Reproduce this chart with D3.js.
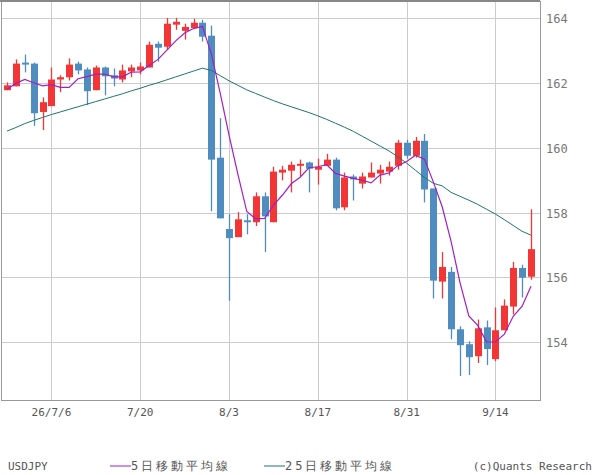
<!DOCTYPE html>
<html><head><meta charset="utf-8">
<script src="https://cdn.jsdelivr.net/npm/d3@7"></script>
<style>body{margin:0;background:#fff}</style></head>
<body><svg id="c" width="600" height="475"></svg>
<script>
const opens=[161.77,161.89,162.62,162.59,161.10,161.28,162.10,162.17,162.59,162.41,161.77,162.47,162.23,162.10,162.35,162.38,162.47,163.20,163.11,163.79,163.60,163.69,163.85,163.45,159.69,157.49,157.24,157.76,157.70,158.50,157.70,159.23,159.29,159.44,159.54,159.32,159.44,159.63,158.16,159.11,158.89,159.08,159.20,159.26,159.44,160.15,159.75,160.21,158.74,155.87,156.17,154.40,153.94,153.57,154.46,153.48,154.37,155.10,156.29,156.02];
const closes=[161.92,162.59,162.56,161.06,161.40,162.10,162.17,162.56,162.38,161.74,162.47,162.20,162.13,162.38,162.47,162.50,163.17,163.08,163.82,163.88,163.72,163.85,163.42,159.63,157.82,157.21,157.79,157.70,158.50,157.88,159.26,159.32,159.47,159.50,159.35,159.41,159.63,158.13,159.08,159.02,159.11,159.23,159.32,159.41,160.15,159.75,160.21,158.71,155.90,156.32,154.40,153.91,153.54,154.43,153.79,154.37,155.13,156.29,155.99,156.87];
const highs=[162.01,162.72,162.87,162.62,161.55,162.47,162.23,162.75,162.65,162.47,162.53,162.50,162.44,162.56,162.56,162.62,163.27,163.27,164.00,164.00,163.82,163.97,163.94,163.76,160.91,157.95,158.01,157.95,158.62,158.62,159.41,159.44,159.57,159.63,159.57,159.66,159.81,159.69,159.23,159.17,159.23,159.54,159.47,159.57,160.24,160.24,160.33,160.42,158.74,156.78,156.32,154.49,154.03,154.70,154.67,155.07,155.32,156.48,156.39,158.10];
const lows=[161.77,161.89,162.32,160.67,160.54,161.28,161.71,162.07,162.26,161.31,161.77,161.61,161.89,162.01,162.17,162.26,162.47,162.65,163.02,163.63,163.33,163.69,163.27,158.04,157.82,155.28,157.24,157.33,157.58,156.78,157.70,158.99,158.62,159.11,158.62,158.86,159.44,158.07,158.07,158.37,158.74,159.08,158.89,159.14,159.32,159.66,159.69,158.31,155.35,155.35,154.09,152.96,152.99,153.36,153.30,153.42,154.37,154.86,155.38,155.93];
const ma5Lead=[161.80,161.98,162.10,162.00];
const ma25=[160.51,160.62,160.74,160.84,160.93,161.02,161.10,161.18,161.26,161.34,161.42,161.50,161.58,161.66,161.75,161.83,161.92,162.00,162.09,162.18,162.27,162.36,162.45,162.38,162.22,162.06,161.92,161.78,161.67,161.56,161.45,161.35,161.26,161.17,161.08,160.98,160.87,160.75,160.63,160.50,160.35,160.20,160.05,159.90,159.72,159.52,159.30,159.08,158.90,158.82,158.62,158.50,158.38,158.25,158.10,157.95,157.78,157.60,157.42,157.30];
const tickIdx=[5,15,25,35,45,55];
const tickLabels=["26/7/6","7/20","8/3","8/17","8/31","9/14"];
const yTicks=[154,156,158,160,162,164];

const svg=d3.select("#c");
const L=1,R=540,T=1,B=400;
const x=d3.scaleLinear().domain([0,59]).range([7,531]);
const y=d3.scaleLinear().domain([152.22,164.52]).range([B,T]);
const ma5=closes.map((c,i)=>i<4?ma5Lead[i]:d3.mean(closes.slice(i-4,i+1)));

const g=svg.append("g");
g.selectAll(".hg").data(yTicks).join("line").attr("x1",L).attr("x2",R)
 .attr("y1",d=>Math.round(y(d))+0.5).attr("y2",d=>Math.round(y(d))+0.5).attr("stroke","#ccc");
g.selectAll(".vg").data(tickIdx).join("line").attr("y1",T).attr("y2",B)
 .attr("x1",d=>Math.round(x(d))+0.5).attr("x2",d=>Math.round(x(d))+0.5).attr("stroke","#ccc");

const up="#f23535",dn="#4f8cc0";
const idx=d3.range(60);
g.selectAll(".w").data(idx).join("line")
 .attr("x1",i=>Math.round(x(i))+0.5).attr("x2",i=>Math.round(x(i))+0.5)
 .attr("y1",i=>y(highs[i])).attr("y2",i=>y(lows[i]))
 .attr("stroke",i=>closes[i]>=opens[i]?up:dn).attr("stroke-width",1.3);
g.selectAll(".b").data(idx).join("rect")
 .attr("x",i=>Math.round(x(i))-3).attr("width",7)
 .attr("y",i=>y(Math.max(opens[i],closes[i])))
 .attr("height",i=>Math.max(1.5,Math.abs(y(opens[i])-y(closes[i]))))
 .attr("fill",i=>closes[i]>=opens[i]?up:dn);

const line=d3.line().x((d,i)=>x(i)).y(d=>y(d));
g.append("path").attr("d",line(ma25)).attr("fill","none").attr("stroke","#1f7470").attr("stroke-width",1);
g.append("path").attr("d",line(ma5)).attr("fill","none").attr("stroke","#a020c0").attr("stroke-width",1.2);

svg.append("rect").attr("x",L+0.5).attr("y",T+0.5).attr("width",R-L).attr("height",B-T)
 .attr("fill","none").attr("stroke","#999");
svg.append("line").attr("x1",0).attr("x2",R).attr("y1",1).attr("y2",1).attr("stroke","#888").attr("stroke-width",2);

const ft="DejaVu Sans Mono, monospace";
svg.selectAll(".yl").data(yTicks).join("text").attr("x",546).attr("y",d=>y(d)+5)
 .text(d=>d).attr("font-family",ft).attr("font-size",12).attr("fill","#777");
svg.selectAll(".xl").data(tickIdx).join("text").attr("x",i=>x(i)).attr("y",416)
 .attr("text-anchor","middle").text((d,k)=>tickLabels[k]).attr("font-family",ft).attr("font-size",11).attr("fill","#555");

const lg=svg.append("g").attr("font-family",ft).attr("font-size",11).attr("fill","#555");
lg.append("text").attr("x",8).attr("y",470).text("USDJPY");
lg.append("line").attr("x1",110).attr("x2",131).attr("y1",466).attr("y2",466).attr("stroke","#a020c0");
lg.append("text").attr("x",131).attr("y",470).attr("font-size",12).attr("letter-spacing",3).text("5日移動平均線");
lg.append("line").attr("x1",264).attr("x2",285).attr("y1",466).attr("y2",466).attr("stroke","#1f7470");
lg.append("text").attr("x",285).attr("y",470).attr("font-size",12).attr("letter-spacing",3).text("25日移動平均線");
lg.append("text").attr("x",592).attr("y",470).attr("text-anchor","end").text("(c)Quants Research");
</script></body></html>
